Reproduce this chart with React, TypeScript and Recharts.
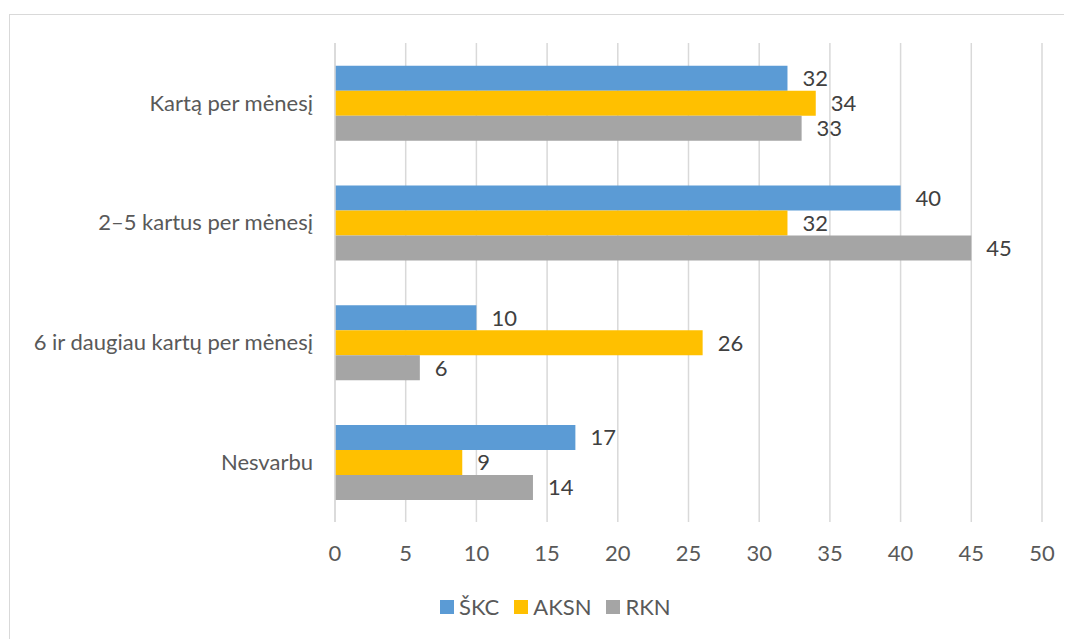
import React from "react";
import { BarChart, Bar, XAxis, YAxis, CartesianGrid, LabelList } from "recharts";

const categories = ["Kartą per mėnesį", "2–5 kartus per mėnesį", "6 ir daugiau kartų per mėnesį", "Nesvarbu"];
const skc = [32, 40, 10, 17];
const aksn = [34, 32, 26, 9];
const rkn = [33, 45, 6, 14];
const xTicks = [0, 5, 10, 15, 20, 25, 30, 35, 40, 45, 50];
const seriesNames = ["ŠKC", "AKSN", "RKN"];
const colors = ["#5B9BD5", "#FFC000", "#A5A5A5"];

const data = categories.map((c, i) => ({ name: c, skc: skc[i], aksn: aksn[i], rkn: rkn[i] }));
const keys = ["skc", "aksn", "rkn"];

const FONT = "Lato, 'Open Sans', sans-serif";
const FS = 22;

export default function App() {
  return (
    <div style={{ position: "relative", width: 1064, height: 631, overflow: "hidden", fontFamily: FONT }}>
      <div
        style={{
          position: "absolute",
          left: 1,
          top: 6,
          width: 1200,
          height: 800,
          border: "1.5px solid #d9d9d9",
          boxSizing: "border-box",
        }}
      />
      <div style={{ position: "absolute", left: 0, top: 0 }}>
        <BarChart
          width={1064}
          height={631}
          data={data}
          layout="vertical"
          margin={{ top: 35, right: 30, bottom: 87, left: 0 }}
          barCategoryGap="19%"
          barGap={0}
        >
          <CartesianGrid horizontal={false} vertical={true} stroke="#d9d9d9" strokeWidth={1.5} />
          <XAxis
            type="number"
            domain={[0, 50]}
            ticks={xTicks}
            axisLine={false}
            tickLine={false}
            tickSize={0}
            tickMargin={23}
            height={30}
            tick={{ fill: "#595959", fontSize: FS, fontFamily: FONT }}
          />
          <YAxis
            type="category"
            dataKey="name"
            width={327}
            axisLine={{ stroke: "#d9d9d9", strokeWidth: 1.5 }}
            tickLine={false}
            tickSize={0}
            tickMargin={22}
            tick={{ fill: "#595959", fontSize: FS, fontFamily: FONT }}
          />
          {keys.map((k, i) => (
            <Bar key={k} dataKey={k} name={seriesNames[i]} fill={colors[i]} isAnimationActive={false}>
              <LabelList
                dataKey={k}
                position="right"
                offset={15}
                fill="#404040"
                fontSize={FS}
                fontFamily={FONT}
              />
            </Bar>
          ))}
        </BarChart>
      </div>
      <div
        style={{
          position: "absolute",
          left: 432,
          top: 585,
          display: "flex",
          alignItems: "center",
          fontSize: FS,
          color: "#595959",
        }}
      >
        {seriesNames.map((n, i) => (
          <div key={n} style={{ display: "flex", alignItems: "center", marginRight: 15 }}>
            <div style={{ width: 14, height: 14, background: colors[i], marginRight: 5 }} />
            <span>{n}</span>
          </div>
        ))}
      </div>
    </div>
  );
}
